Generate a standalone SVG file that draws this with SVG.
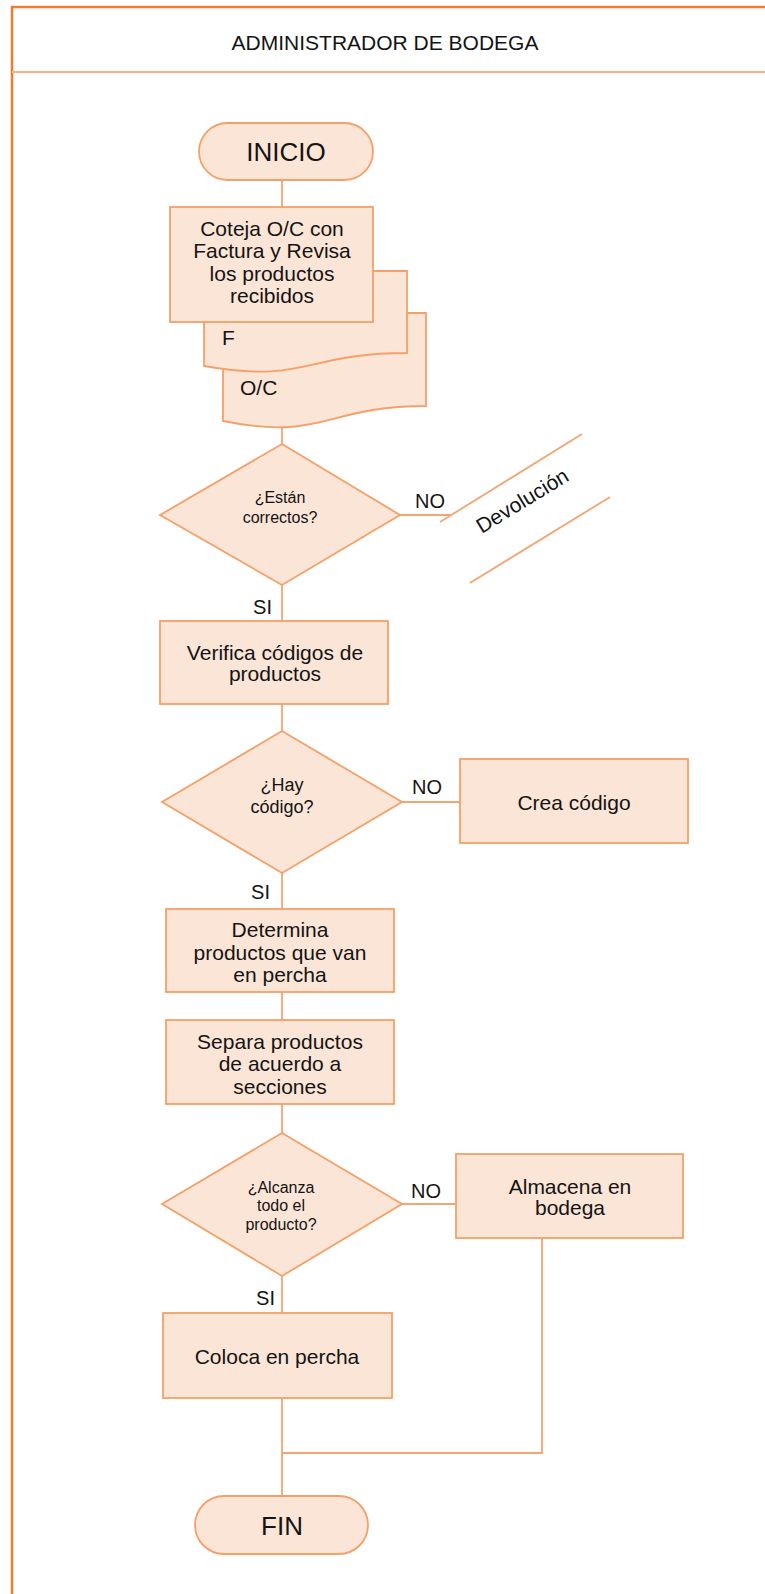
<svg xmlns="http://www.w3.org/2000/svg" width="765" height="1594" viewBox="0 0 765 1594">
  <style>
    .shape { fill: #FBE5D6; stroke: #F4A068; stroke-width: 1.8; }
    .conn { fill: none; stroke: #F4A572; stroke-width: 1.8; }
    .t { font-family: "Liberation Sans", Arial, sans-serif; fill: #141414; text-anchor: middle; }
    .box { font-size: 21px; }
    .dec { font-size: 16px; }
    .dec18 { font-size: 18px; }
    .term { font-size: 26px; }
    .title { font-size: 21px; }
    .lbl { font-family: "Liberation Sans", Arial, sans-serif; font-size: 20px; fill: #141414; }
    .lbl21 { font-size: 21px; }
  </style>

  <rect width="765" height="1594" fill="#ffffff"/>

  <!-- swimlane frame -->
  <g id="lane">
    <path d="M12,1600 V7 H770" fill="none" stroke="#ED7D31" stroke-width="2.5"/>
    <line x1="12" y1="72" x2="770" y2="72" stroke="#F4B183" stroke-width="2"/>
    <text class="t title" x="385" y="50">ADMINISTRADOR DE BODEGA</text>
  </g>

  <!-- connectors -->
  <g id="connectors">
    <path class="conn" d="M282,180 V207"/>
    <path class="conn" d="M282,424 V444"/>
    <path class="conn" d="M282,585 V621"/>
    <path class="conn" d="M400,515 H452"/>
    <path class="conn" d="M282,704 V731"/>
    <path class="conn" d="M402,802 H460"/>
    <path class="conn" d="M282,873 V909"/>
    <path class="conn" d="M282,992 V1020"/>
    <path class="conn" d="M282,1104 V1133"/>
    <path class="conn" d="M402,1204 H456"/>
    <path class="conn" d="M282,1276 V1313"/>
    <path class="conn" d="M282,1398 V1496"/>
    <path class="conn" d="M542,1238 V1453 H282"/>
    <text class="lbl" x="415" y="508">NO</text>
    <text class="lbl" x="272" y="614" text-anchor="end">SI</text>
    <text class="lbl" x="412" y="794">NO</text>
    <text class="lbl" x="270" y="899" text-anchor="end">SI</text>
    <text class="lbl" x="411" y="1198">NO</text>
    <text class="lbl" x="275" y="1305" text-anchor="end">SI</text>
  </g>

  <g id="inicio">
    <rect class="shape" x="199" y="123" width="174" height="57" rx="28.5"/>
    <text class="t term" x="286" y="161">INICIO</text>
  </g>

  <!-- documents behind the first process -->
  <g id="doc-oc">
    <path class="shape" d="M223,313 H426 V406 C324.5,406 324.5,441.5 223,421 Z"/>
    <text class="lbl lbl21" x="240" y="395">O/C</text>
  </g>
  <g id="doc-f">
    <path class="shape" d="M204,271 H407 V353 C305.5,353 305.5,384 204,366 Z"/>
    <text class="lbl lbl21" x="222" y="345">F</text>
  </g>

  <g id="coteja">
    <rect class="shape" x="170" y="207" width="203" height="115"/>
    <text class="t box" x="272" y="235.5">Coteja O/C con</text>
    <text class="t box" x="272" y="257.5">Factura y Revisa</text>
    <text class="t box" x="272" y="280.5">los productos</text>
    <text class="t box" x="272" y="302.5">recibidos</text>
  </g>

  <g id="correctos">
    <polygon class="shape" points="282,444 400,515 282,585 160,515"/>
    <text class="t dec" x="280" y="502.5">¿Están</text>
    <text class="t dec" x="280" y="522.5">correctos?</text>
  </g>

  <g id="devolucion">
    <line x1="440" y1="522" x2="582" y2="434" stroke="#F4A572" stroke-width="1.8"/>
    <line x1="470" y1="583" x2="610" y2="497" stroke="#F4A572" stroke-width="1.8"/>
    <text class="lbl lbl21" x="526" y="507" text-anchor="middle" transform="rotate(-31.4 526 507)">Devolución</text>
  </g>

  <g id="verifica">
    <rect class="shape" x="160" y="621" width="228" height="83"/>
    <text class="t box" x="275" y="659.5">Verifica códigos de</text>
    <text class="t box" x="275" y="680.5">productos</text>
  </g>

  <g id="hay-codigo">
    <polygon class="shape" points="282,731 402,802 282,873 162,802"/>
    <text class="t dec18" x="282" y="791">¿Hay</text>
    <text class="t dec18" x="282" y="813">código?</text>
  </g>

  <g id="crea-codigo">
    <rect class="shape" x="460" y="759" width="228" height="84"/>
    <text class="t box" x="574" y="809.5">Crea código</text>
  </g>

  <g id="determina">
    <rect class="shape" x="166" y="909" width="228" height="83"/>
    <text class="t box" x="280" y="936.5">Determina</text>
    <text class="t box" x="280" y="959.5">productos que van</text>
    <text class="t box" x="280" y="981.5">en percha</text>
  </g>

  <g id="separa">
    <rect class="shape" x="166" y="1020" width="228" height="84"/>
    <text class="t box" x="280" y="1048.5">Separa productos</text>
    <text class="t box" x="280" y="1070.5">de acuerdo a</text>
    <text class="t box" x="280" y="1093.5">secciones</text>
  </g>

  <g id="alcanza">
    <polygon class="shape" points="282,1133 402,1204 282,1276 162,1204"/>
    <text class="t dec" x="281" y="1193">¿Alcanza</text>
    <text class="t dec" x="281" y="1211">todo el</text>
    <text class="t dec" x="281" y="1230">producto?</text>
  </g>

  <g id="almacena">
    <rect class="shape" x="456" y="1154" width="227" height="84"/>
    <text class="t box" x="570" y="1193.5">Almacena en</text>
    <text class="t box" x="570" y="1214.5">bodega</text>
  </g>

  <g id="coloca">
    <rect class="shape" x="163" y="1313" width="229" height="85"/>
    <text class="t box" x="277" y="1363.5">Coloca en percha</text>
  </g>

  <g id="fin">
    <rect class="shape" x="195" y="1496" width="173" height="58" rx="29"/>
    <text class="t term" x="282" y="1535">FIN</text>
  </g>
</svg>
